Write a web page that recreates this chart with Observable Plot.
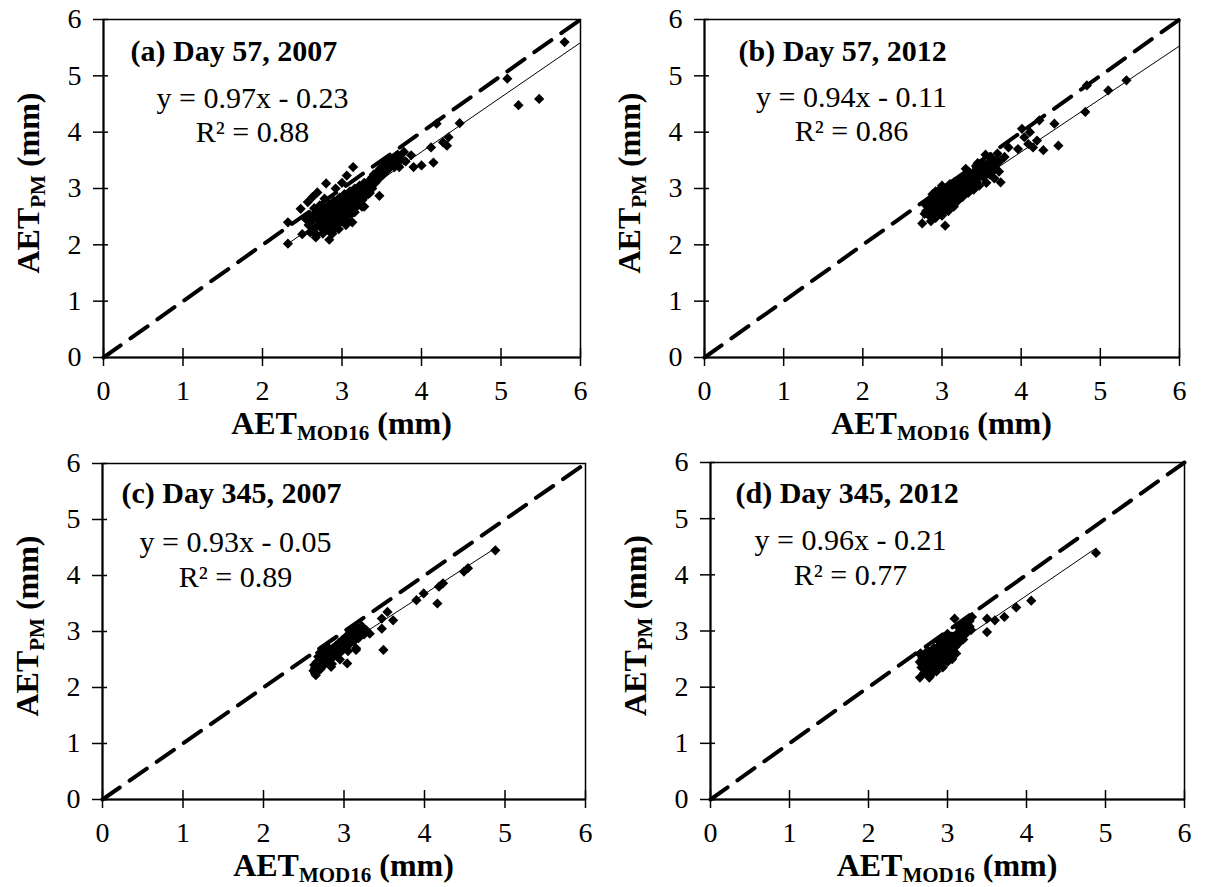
<!DOCTYPE html>
<html><head><meta charset="utf-8">
<script src="https://cdn.jsdelivr.net/npm/d3@7"></script>
<script src="https://cdn.jsdelivr.net/npm/@observablehq/plot@0.6"></script>
<style>
html,body{margin:0;padding:0;background:#fff;}
#wrap{position:relative;width:1210px;height:887px;overflow:hidden;}
#wrap svg{position:absolute;left:0;top:0;}
</style></head><body><div id="wrap"></div>
<script>
// ---------- data ----------
const axisTicks = [0, 1, 2, 3, 4, 5, 6];
const panelTitles = ["(a) Day 57, 2007", "(b) Day 57, 2012", "(c) Day 345, 2007", "(d) Day 345, 2012"];
const slopes = [0.97, 0.94, 0.93, 0.96];
const intercepts = [-0.23, -0.11, -0.05, -0.21];
const trendXMax = [6.0, 6.0, 4.88, 4.88];
const eqLabels = ["y = 0.97x - 0.23", "y = 0.94x - 0.11", "y = 0.93x - 0.05", "y = 0.96x - 0.21"];
const r2Labels = ["R² = 0.88", "R² = 0.86", "R² = 0.89", "R² = 0.77"];

const pointsA = [
[2.32,2.02],[2.32,2.40],[2.48,2.64],[2.50,2.19],[2.57,2.76],[2.69,2.93],[2.67,2.13],[2.80,3.09],[2.84,2.09],[2.96,2.28],
[3.06,3.23],[3.14,3.38],[3.28,2.68],[3.47,2.87],[3.87,3.59],[3.90,3.38],[4.00,3.41],[4.15,3.46],[4.12,3.73],[4.27,3.82],
[4.32,3.76],[4.34,3.91],[4.19,4.15],[4.48,4.16],[5.08,4.95],[5.22,4.48],[5.48,4.59],[5.80,5.60],
[2.62,2.42],[2.65,2.55],[2.66,2.30],[2.68,2.62],[2.70,2.45],[2.71,2.36],[2.72,2.70],[2.74,2.52],[2.75,2.28],[2.76,2.60],
[2.77,2.44],[2.78,2.82],[2.79,2.35],[2.80,2.55],[2.81,2.66],[2.82,2.48],[2.83,2.25],[2.84,2.72],[2.85,2.40],[2.86,2.58],
[2.87,2.50],[2.88,2.32],[2.89,2.64],[2.90,2.78],[2.91,2.45],[2.92,2.55],[2.93,2.38],[2.94,2.68],[2.95,2.60],[2.96,2.48],
[2.97,2.84],[2.98,2.56],[2.99,2.42],[3.00,2.70],[3.01,2.62],[3.02,2.50],[3.03,2.90],[3.04,2.74],[3.05,2.58],[3.06,2.44],
[3.07,2.80],[3.08,2.66],[3.10,2.95],[3.11,2.72],[3.12,2.55],[3.14,2.84],[3.15,2.64],[3.16,3.00],[3.18,2.76],[3.20,2.90],
[3.22,3.05],[3.24,2.82],[3.26,2.95],[3.28,3.10],[3.30,2.88],[3.32,3.02],[3.35,3.15],[3.38,3.00],[3.40,3.25],[3.42,3.10],
[3.45,3.30],[3.47,3.18],[3.50,3.38],[3.52,3.25],[3.55,3.45],[3.57,3.32],[3.60,3.50],[3.62,3.40],[3.65,3.55],[3.68,3.45],
[3.70,3.60],[3.72,3.38],[3.75,3.52],[3.78,3.65],[3.80,3.48],[2.58,2.35],[2.60,2.22],[2.55,2.45],[2.63,2.85],[2.68,2.18],
[3.13,2.40],[3.25,2.68],[3.35,2.92],[2.92,3.00],[3.00,3.10],
[2.70,2.55],[2.73,2.40],[2.76,2.50],[2.78,2.65],[2.80,2.30],[2.82,2.58],[2.84,2.45],[2.86,2.65],[2.88,2.42],[2.90,2.60],
[2.92,2.30],[2.94,2.52],[2.96,2.75],[2.98,2.65],[3.00,2.45],[3.02,2.80],[3.04,2.60],[3.06,2.70],[3.08,2.52],[3.10,2.85],
[3.12,2.65],[3.14,2.75],[3.16,2.58],[3.18,2.95],[3.20,2.70],[3.22,2.88],[3.24,2.98],[3.26,2.80],[3.28,2.95],[3.30,3.05],
[3.33,2.90],[3.36,3.05],[3.38,3.20],[3.41,3.15],[3.44,3.22],[3.48,3.35],[3.50,3.28],[3.53,3.40],[3.56,3.38],[3.58,3.48],
[3.63,3.48],[3.66,3.38],[3.68,3.58],[3.73,3.55],[2.88,2.20],[2.76,2.20],[2.95,2.38],[3.05,2.35],[2.65,2.65],[2.60,2.50]
];
const pointsB = [
[2.75,2.38],[3.04,2.34],[3.74,3.11],[3.79,3.56],[3.84,3.73],[4.01,4.06],[3.96,3.70],[4.09,3.79],[4.15,3.73],[4.20,3.85],
[4.23,4.21],[4.28,3.68],[4.42,4.15],[4.47,3.76],[4.81,4.36],[4.83,4.83],[5.10,4.74],[5.33,4.92],[4.11,4.00],[4.04,3.91],
[2.78,2.55],[2.80,2.70],[2.82,2.62],[2.84,2.80],[2.85,2.50],[2.87,2.68],[2.88,2.90],[2.90,2.58],[2.91,2.75],[2.92,2.85],
[2.94,2.65],[2.95,2.95],[2.96,2.72],[2.97,2.55],[2.98,2.82],[3.00,3.05],[3.01,2.68],[3.02,2.90],[3.03,2.78],[3.05,2.62],
[3.06,2.98],[3.07,2.85],[3.08,2.72],[3.10,3.08],[3.11,2.92],[3.12,2.80],[3.14,3.00],[3.15,2.68],[3.16,3.12],[3.18,2.88],
[3.19,3.02],[3.20,2.78],[3.22,3.15],[3.23,2.95],[3.25,3.05],[3.26,2.85],[3.28,3.20],[3.30,3.00],[3.32,3.12],[3.33,2.92],
[3.35,3.28],[3.37,3.05],[3.38,3.18],[3.40,2.98],[3.42,3.32],[3.44,3.12],[3.45,3.25],[3.47,3.05],[3.50,3.40],[3.52,3.20],
[3.54,3.30],[3.56,3.10],[3.58,3.45],[3.60,3.25],[3.62,3.55],[3.64,3.35],[3.66,3.18],[3.68,3.48],[3.70,3.62],[3.72,3.30],
[3.74,3.50],[2.86,2.42],[2.92,2.48],[3.00,2.52],[3.08,2.60],[3.15,2.90],[3.30,3.35],[3.45,3.45],[3.55,3.60],[3.00,2.95],
[2.80,2.60],[2.83,2.72],[2.86,2.58],[2.88,2.75],[2.90,2.68],[2.92,2.95],[2.94,2.78],[2.96,2.88],[2.98,2.70],[3.00,2.85],
[3.02,2.75],[3.04,3.00],[3.06,2.90],[3.08,2.82],[3.10,2.95],[3.12,3.05],[3.14,2.85],[3.16,2.95],[3.18,3.10],[3.20,3.00],
[3.22,2.90],[3.24,3.10],[3.26,3.00],[3.28,2.95],[3.30,3.15],[3.32,3.05],[3.34,3.20],[3.36,3.15],[3.38,3.08],[3.40,3.25],
[3.42,3.18],[3.44,3.30],[3.46,3.20],[3.48,3.38],[3.50,3.30],[3.52,3.45],[3.54,3.22],[3.56,3.40],[3.58,3.32],[3.60,3.40],
[3.62,3.28],[3.64,3.50],[3.66,3.42],[3.68,3.35],[3.70,3.45],[2.84,2.55],[2.88,2.62],[2.96,2.62],[3.04,2.70],[3.12,2.72]
];
const pointsC = [
[2.65,2.22],[2.84,2.37],[3.04,2.43],[3.15,2.67],[3.32,2.96],[3.47,3.05],[3.47,3.23],[3.49,2.67],[3.54,3.35],[3.61,3.20],
[3.90,3.56],[3.99,3.68],[4.16,3.50],[4.18,3.80],[4.23,3.86],[4.49,4.07],[4.54,4.13],[4.88,4.45],
[2.62,2.30],[2.63,2.40],[2.64,2.25],[2.65,2.35],[2.66,2.45],[2.67,2.28],[2.68,2.38],[2.70,2.50],[2.71,2.33],[2.72,2.42],
[2.74,2.55],[2.75,2.40],[2.76,2.48],[2.78,2.60],[2.79,2.45],[2.80,2.53],[2.82,2.65],[2.83,2.50],[2.84,2.58],[2.86,2.70],
[2.87,2.55],[2.88,2.62],[2.90,2.75],[2.91,2.58],[2.92,2.66],[2.94,2.80],[2.95,2.62],[2.96,2.72],[2.98,2.85],[2.99,2.68],
[3.00,2.76],[3.02,2.90],[3.03,2.72],[3.04,2.80],[3.06,2.95],[3.07,2.78],[3.08,2.86],[3.10,3.00],[3.12,2.82],[3.14,2.92],
[3.16,3.05],[3.18,2.88],[3.20,2.98],[3.22,3.10],[3.25,2.95],[3.28,3.02],[2.70,2.62],[2.80,2.72],[2.85,2.42],[2.95,2.50],
[3.05,2.65],[3.15,2.70],
[2.64,2.35],[2.66,2.30],[2.68,2.45],[2.70,2.40],[2.72,2.50],[2.74,2.45],[2.76,2.58],[2.78,2.52],[2.80,2.62],[2.82,2.55],
[2.84,2.66],[2.86,2.60],[2.88,2.70],[2.90,2.65],[2.92,2.75],[2.94,2.70],[2.96,2.80],[2.98,2.75],[3.00,2.85],[3.02,2.80],
[3.04,2.88],[3.06,2.85],[3.08,2.95],[3.10,2.90],[3.12,3.00],[3.14,2.98],[3.16,2.95],[3.18,3.05],[2.68,2.55],[2.75,2.65]
];
const pointsD = [
[2.65,2.17],[2.77,2.17],[2.65,2.59],[3.09,3.22],[3.31,3.25],[3.50,3.22],[3.50,2.98],[3.60,3.19],[3.72,3.25],[3.87,3.42],
[4.06,3.54],[4.88,4.39],
[2.65,2.45],[2.66,2.60],[2.67,2.35],[2.68,2.52],[2.70,2.25],[2.71,2.42],[2.72,2.58],[2.73,2.30],[2.74,2.48],[2.75,2.65],
[2.76,2.38],[2.77,2.55],[2.78,2.20],[2.79,2.45],[2.80,2.62],[2.81,2.32],[2.82,2.50],[2.83,2.70],[2.84,2.40],[2.85,2.58],
[2.86,2.28],[2.87,2.48],[2.88,2.66],[2.89,2.38],[2.90,2.55],[2.91,2.75],[2.92,2.45],[2.93,2.62],[2.94,2.35],[2.95,2.52],
[2.96,2.70],[2.97,2.48],[2.98,2.80],[2.99,2.60],[3.00,2.45],[3.01,2.68],[3.02,2.55],[3.03,2.85],[3.04,2.62],[3.05,2.75],
[3.06,2.50],[3.07,2.90],[3.08,2.70],[3.10,2.82],[3.11,2.60],[3.12,2.95],[3.14,2.78],[3.15,3.05],[3.16,2.88],[3.18,3.00],
[3.20,2.85],[3.22,3.12],[3.24,2.96],[3.26,3.08],[3.28,3.18],[3.30,3.02],[2.95,2.85],[3.00,2.95],
[2.68,2.40],[2.70,2.55],[2.72,2.35],[2.74,2.62],[2.76,2.45],[2.78,2.30],[2.80,2.50],[2.82,2.40],[2.84,2.55],[2.86,2.45],
[2.88,2.58],[2.90,2.45],[2.92,2.65],[2.94,2.55],[2.96,2.60],[2.98,2.50],[3.00,2.70],[3.02,2.62],[3.04,2.75],[3.06,2.68],
[3.08,2.80],[3.10,2.72],[3.12,2.85],[3.14,2.90],[3.16,2.95],[3.18,2.90],[3.20,3.05],[3.22,3.00],[3.24,3.10],[2.80,2.25],
[2.85,2.35],[2.75,2.28],[3.28,3.08],[3.05,2.90],[2.90,2.80]
];
const panelPoints = [pointsA, pointsB, pointsC, pointsD];

// ---------- layout (styling only) ----------
const W = 1210, H = 887;
const FONT = "Liberation Serif";
const frames = [
  {left: 103, right: 580, top: 19, bottom: 357},
  {left: 704, right: 1179, top: 19, bottom: 357},
  {left: 102, right: 585, top: 463, bottom: 799},
  {left: 710, right: 1184, top: 462, bottom: 799}
];
const textPos = [
  {tdx: 27, tdy: 32, edx: 149, edy: 79, rdy: 113},
  {tdx: 34, tdy: 32, edx: 147, edy: 78, rdy: 112},
  {tdx: 19, tdy: 30, edx: 133, edy: 79, rdy: 114},
  {tdx: 25, tdy: 31, edx: 140, edy: 78, rdy: 113}
];

function axisTitles(index, scales, values, dims) {
  const {width, height, marginLeft, marginRight, marginTop, marginBottom} = dims;
  const g = d3.create("svg:g").attr("font-family", FONT).attr("font-weight", "bold").attr("fill", "black");
  const cx = (marginLeft + width - marginRight) / 2;
  const xt = g.append("text").attr("x", cx).attr("y", height - marginBottom + 77)
    .attr("text-anchor", "middle").attr("font-size", 32);
  xt.append("tspan").text("AET");
  xt.append("tspan").attr("font-size", 21).attr("dy", 6).text("MOD16");
  xt.append("tspan").attr("dy", -6).text(" (mm)");
  const cy = (marginTop + height - marginBottom) / 2 - 5;
  const yt = g.append("text").attr("transform", `translate(${marginLeft - 64},${cy}) rotate(-90)`)
    .attr("text-anchor", "middle").attr("font-size", 32);
  yt.append("tspan").text("AET");
  yt.append("tspan").attr("font-size", 21).attr("dy", 6).text("PM");
  yt.append("tspan").attr("dy", -6).text(" (mm)");
  return g.node();
}

const wrap = document.getElementById("wrap");
panelPoints.forEach((pts, i) => {
  const f = frames[i], tp = textPos[i];
  const data = pts.map(([x, y]) => ({x, y}));
  const xmin = d3.min(data, d => d.x);
  const trend = [xmin, trendXMax[i]].map(x => ({x, y: slopes[i] * x + intercepts[i]}));
  const oneToOne = d3.extent(axisTicks).map(v => ({x: v, y: v}));
  const plot = Plot.plot({
    width: W, height: H,
    marginLeft: f.left, marginRight: W - f.right, marginTop: f.top, marginBottom: H - f.bottom,
    style: {background: "transparent"},
    x: {domain: [0, 6], label: null},
    y: {domain: [0, 6], label: null},
    marks: [
      Plot.frame({stroke: "black", strokeWidth: 1.5}),
      Plot.axisX({ticks: axisTicks, tickFormat: d => String(d), tickSize: 0, tickPadding: 23, label: null, fontSize: 28, fontFamily: FONT}),
      Plot.axisY({ticks: axisTicks, tickFormat: d => String(d), tickSize: 0, tickPadding: 22, label: null, fontSize: 28, fontFamily: FONT}),
      Plot.ruleX(axisTicks, {x: d => d, y1: 0, y2: 0, insetTop: -9, insetBottom: -9, stroke: "black", strokeWidth: 1.5}),
      Plot.ruleY(axisTicks, {y: d => d, x1: 0, x2: 0, insetLeft: -10, insetRight: -5, stroke: "black", strokeWidth: 1.5}),
      Plot.ruleX([0], {stroke: "black", strokeWidth: 2}),
      Plot.ruleY([0], {stroke: "black", strokeWidth: 2}),
      Plot.line(oneToOne, {x: "x", y: "y", stroke: "black", strokeWidth: 4, strokeDasharray: "21,12"}),
      Plot.line(trend, {x: "x", y: "y", stroke: "black", strokeWidth: 1}),
      Plot.dot(data, {x: "x", y: "y", symbol: "diamond2", r: 4.6, fill: "black", stroke: "none"}),
      Plot.text([panelTitles[i]], {frameAnchor: "top-left", text: d => d, dx: tp.tdx, dy: tp.tdy, lineAnchor: "middle", textAnchor: "start", fontSize: 30, fontWeight: "bold", fontFamily: FONT}),
      Plot.text([eqLabels[i]], {frameAnchor: "top-left", text: d => d, dx: tp.edx, dy: tp.edy, lineAnchor: "middle", textAnchor: "middle", fontSize: 30, fontFamily: FONT}),
      Plot.text([r2Labels[i]], {frameAnchor: "top-left", text: d => d, dx: tp.edx, dy: tp.rdy, lineAnchor: "middle", textAnchor: "middle", fontSize: 30, fontFamily: FONT}),
      axisTitles
    ]
  });
  wrap.appendChild(plot);
});
</script></body></html>
